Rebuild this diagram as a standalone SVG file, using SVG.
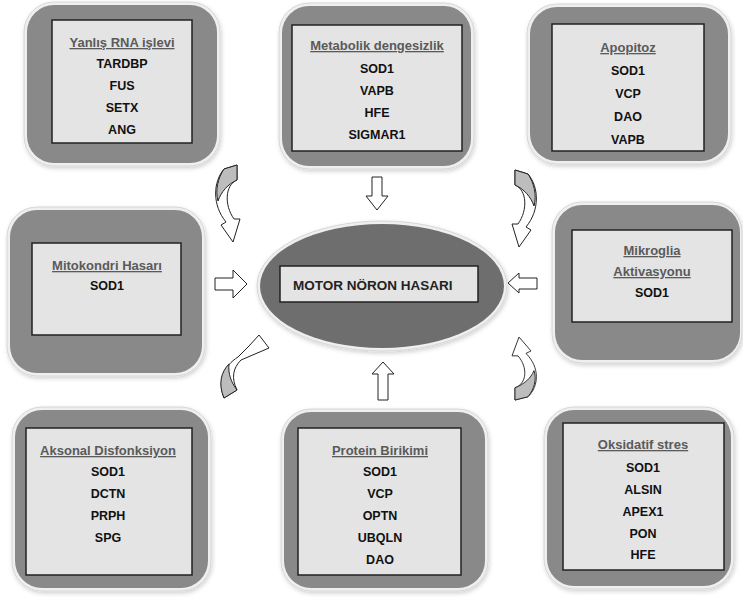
<svg xmlns="http://www.w3.org/2000/svg" width="743" height="600" viewBox="0 0 743 600">
<defs>
<filter id="sh" x="-10%" y="-10%" width="120%" height="120%">
<feDropShadow dx="1" dy="2" stdDeviation="2" flood-color="#000" flood-opacity="0.18"/>
</filter>
<path id="carrow" d="M224,169 L237,165 L237,180 C225,185 224,205 234,219 L240,219 L233,242 L221,225 L226,222 C212,205 213,182 224,169 Z"/>
<path id="cgray" d="M224,169 L237,165 L237,180 C228,184 221,192 218,201 C215,190 218,178 224,169 Z"/>
</defs>
<style>
.bord{fill:#efefef;stroke:#d6d6d6;stroke-width:1}
.gray{fill:#898989}
.inner{fill:#e4e4e4;stroke:#222;stroke-width:1.5}
.t{font-family:"Liberation Sans",Arial,sans-serif;font-weight:bold;font-size:13px;fill:#5a5a5a;text-decoration:underline;text-anchor:middle}
.g{font-family:"Liberation Sans",Arial,sans-serif;font-weight:bold;font-size:12.5px;fill:#111;text-anchor:middle}
.arr{fill:#fff;stroke:#222;stroke-width:1}
.cg{fill:#bdbdbd;stroke:#222;stroke-width:1}
</style>
<rect width="743" height="600" fill="#fff"/>

<g id="node-rna">
<rect class="bord" x="24" y="2" width="196" height="164" rx="30" filter="url(#sh)"/>
<rect class="gray" x="27" y="5" width="190" height="158" rx="27"/>
<rect class="inner" x="52" y="20" width="140" height="123"/>
<text class="t" x="122" y="47">Yanlış RNA işlevi</text>
<text class="g" x="122" y="68">TARDBP</text>
<text class="g" x="122" y="90">FUS</text>
<text class="g" x="122" y="112">SETX</text>
<text class="g" x="122" y="134">ANG</text>
</g>

<g id="node-metabolik">
<rect class="bord" x="279" y="3" width="195" height="166" rx="30" filter="url(#sh)"/>
<rect class="gray" x="282" y="6" width="189" height="160" rx="27"/>
<rect class="inner" x="292" y="25" width="170" height="126"/>
<text class="t" x="377" y="50">Metabolik dengesizlik</text>
<text class="g" x="377" y="73">SOD1</text>
<text class="g" x="377" y="95">VAPB</text>
<text class="g" x="377" y="117">HFE</text>
<text class="g" x="377" y="139">SIGMAR1</text>
</g>

<g id="node-apopitoz">
<rect class="bord" x="527" y="4" width="204" height="160" rx="30" filter="url(#sh)"/>
<rect class="gray" x="530" y="7" width="198" height="154" rx="27"/>
<rect class="inner" x="552" y="24" width="152" height="127"/>
<text class="t" x="628" y="52">Apopitoz</text>
<text class="g" x="628" y="75">SOD1</text>
<text class="g" x="628" y="98">VCP</text>
<text class="g" x="628" y="121">DAO</text>
<text class="g" x="628" y="144">VAPB</text>
</g>

<g id="node-mitokondri">
<rect class="bord" x="7" y="207" width="198" height="169" rx="30" filter="url(#sh)"/>
<rect class="gray" x="10" y="210" width="192" height="163" rx="27"/>
<rect class="inner" x="32" y="243" width="149" height="92"/>
<text class="t" x="107" y="270">Mitokondri Hasarı</text>
<text class="g" x="107" y="290">SOD1</text>
</g>

<g id="node-mikroglia">
<rect class="bord" x="552" y="202" width="190" height="161" rx="30" filter="url(#sh)"/>
<rect class="gray" x="555" y="205" width="185" height="155" rx="27"/>
<rect class="inner" x="572" y="230" width="160" height="92"/>
<text class="t" x="652" y="255">Mikroglia</text>
<text class="t" x="652" y="276">Aktivasyonu</text>
<text class="g" x="652" y="297">SOD1</text>
</g>

<g id="node-aksonal">
<rect class="bord" x="12" y="407" width="199" height="184" rx="30" filter="url(#sh)"/>
<rect class="gray" x="15" y="410" width="193" height="178" rx="27"/>
<rect class="inner" x="26" y="428" width="166" height="147"/>
<text class="t" x="108" y="455">Aksonal Disfonksiyon</text>
<text class="g" x="108" y="476">SOD1</text>
<text class="g" x="108" y="498">DCTN</text>
<text class="g" x="108" y="520">PRPH</text>
<text class="g" x="108" y="542">SPG</text>
</g>

<g id="node-protein">
<rect class="bord" x="281" y="409" width="207" height="182" rx="30" filter="url(#sh)"/>
<rect class="gray" x="284" y="412" width="201" height="176" rx="27"/>
<rect class="inner" x="298" y="428" width="163" height="147"/>
<text class="t" x="380" y="455">Protein Birikimi</text>
<text class="g" x="380" y="476">SOD1</text>
<text class="g" x="380" y="498">VCP</text>
<text class="g" x="380" y="520">OPTN</text>
<text class="g" x="380" y="542">UBQLN</text>
<text class="g" x="380" y="564">DAO</text>
</g>

<g id="node-oksidatif">
<rect class="bord" x="544" y="407" width="190" height="182" rx="30" filter="url(#sh)"/>
<rect class="gray" x="547" y="410" width="184" height="176" rx="27"/>
<rect class="inner" x="563" y="423" width="161" height="147"/>
<text class="t" x="643" y="449">Oksidatif stres</text>
<text class="g" x="643" y="472">SOD1</text>
<text class="g" x="643" y="494">ALSIN</text>
<text class="g" x="643" y="516">APEX1</text>
<text class="g" x="643" y="538">PON</text>
<text class="g" x="643" y="559">HFE</text>
</g>

<g id="node-motor">
<ellipse cx="382" cy="286" rx="125" ry="65" fill="#efefef" stroke="#d6d6d6" filter="url(#sh)"/>
<ellipse cx="382" cy="286" rx="122" ry="62" fill="#6e6e6e"/>
<rect class="inner" x="280" y="266" width="198" height="36" stroke-width="1.2"/>
<text x="293" y="290" font-family="Liberation Sans, Arial, sans-serif" font-weight="bold" font-size="13.5" fill="#222">MOTOR NÖRON HASARI</text>
</g>

<g id="connectors">
<path class="arr" d="M372,177 L382,177 L382,196 L388,196 L377,210 L366,196 L372,196 Z"/>
<path class="arr" d="M383,362 L394,374 L388,374 L388,400 L378,400 L378,374 L372,374 Z"/>
<path class="arr" d="M215,278 L233,278 L233,270 L247,284 L233,298 L233,290 L215,290 Z"/>
<path class="arr" d="M508,283 L519,273 L519,278 L537,278 L537,289 L519,289 L519,293 Z"/>
<g>
<use href="#carrow" class="arr"/>
<use href="#cgray" class="cg"/>
</g>
<g transform="translate(752,5) scale(-1,1)">
<use href="#carrow" class="arr"/>
<use href="#cgray" class="cg"/>
</g>
<g transform="matrix(-1 0 0 -0.818 752 535)">
<use href="#carrow" class="arr"/>
<use href="#cgray" class="cg"/>
</g>
<g>
<path class="arr" d="M224,398 C217,380 224,366 238,357 L249,346 L259,335 L269,348 L241,360 C233,368 231,378 237,390 Z"/>
<path class="cg" d="M224,398 C218,384 221,372 229,364 C228,374 231,382 237,390 Z"/>
</g>
</g>
</svg>
